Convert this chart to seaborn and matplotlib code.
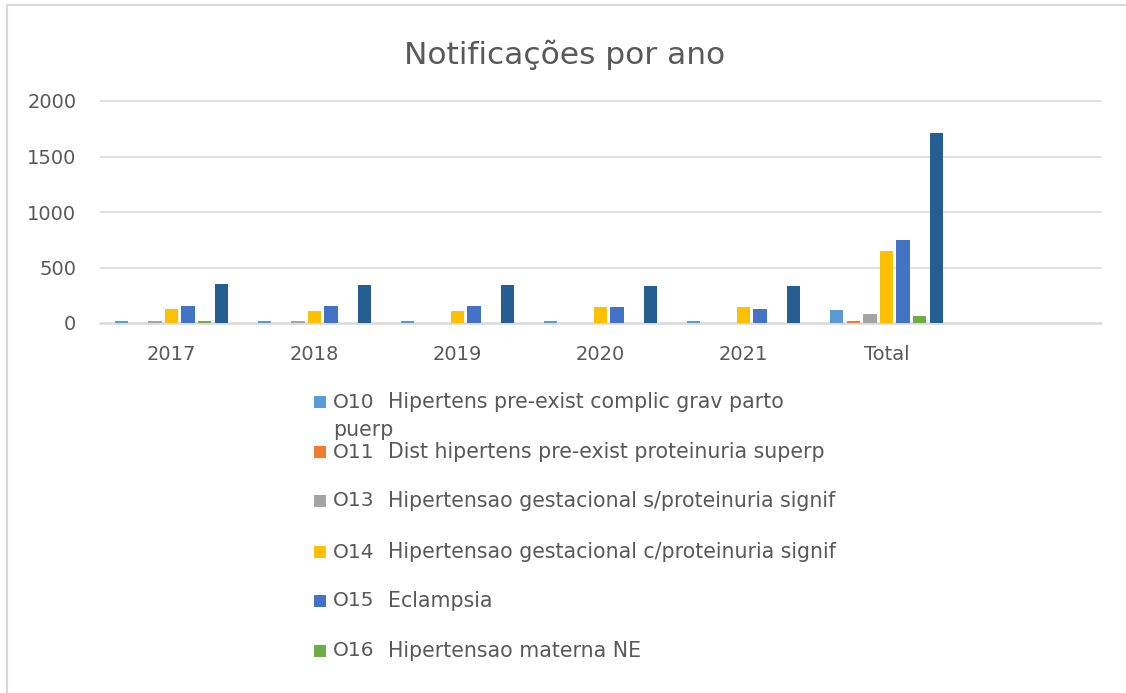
import matplotlib
matplotlib.use("Agg")
import matplotlib.pyplot as plt
import seaborn as sns
import pandas as pd
from matplotlib.patches import Rectangle
from matplotlib.lines import Line2D

categories = ["2017", "2018", "2019", "2020", "2021", "Total"]
codes = ["O10", "O11", "O13", "O14", "O15", "O16", "Total"]
names = [
    "Hipertens pre-exist complic grav parto\npuerp",
    "Dist hipertens pre-exist proteinuria superp",
    "Hipertensao gestacional s/proteinuria signif",
    "Hipertensao gestacional c/proteinuria signif",
    "Eclampsia",
    "Hipertensao materna NE",
    "Total",
]
o10 = [20, 20, 18, 20, 20, 115]
o11 = [0, 0, 0, 0, 0, 15]
o13 = [20, 20, 0, 0, 0, 80]
o14 = [130, 108, 108, 140, 140, 650]
o15 = [155, 155, 155, 140, 130, 750]
o16 = [18, 0, 0, 0, 0, 60]
total = [355, 342, 342, 333, 333, 1710]
series_values = [o10, o11, o13, o14, o15, o16, total]
colors = ["#5B9BD5", "#ED7D31", "#A5A5A5", "#FFC000", "#4472C4", "#70AD47", "#255E91"]
yticks = [0, 500, 1000, 1500, 2000]

rows = []
for code, vals in zip(codes, series_values):
    for cat, v in zip(categories, vals):
        rows.append({"cat": cat, "serie": code, "valor": v})
df = pd.DataFrame(rows)

sns.set_theme(style="white")
plt.rcParams["font.family"] = ["DejaVu Sans"]
txt = "#595959"

W, H = 1126, 693
fig = plt.figure(figsize=(W / 100, H / 100), dpi=100)
fig.patch.set_facecolor("white")

def fx(px):
    return px / W

def fy(py):
    return 1 - py / H

ax = fig.add_axes([fx(100), fy(323), fx(1101) - fx(100), fy(101) - fy(323)])
sns.barplot(data=df, x="cat", y="valor", hue="serie", order=categories,
            hue_order=codes, palette=colors, width=0.81, gap=0.2,
            ax=ax, legend=False, saturation=1, linewidth=0)
ax.set_xlim(-0.5, 6.5)
ax.set_ylim(0, 2000)
ax.set_yticks(yticks)
ax.set_yticklabels([str(t) for t in yticks])
for s in ax.spines.values():
    s.set_visible(False)
ax.set_xlabel("")
ax.set_ylabel("")
for t in yticks:
    ax.axhline(t, color="#D9D9D9", lw=1.1 if t else 1.8, zorder=0, clip_on=False)
ax.tick_params(axis="y", length=0, pad=17, labelsize=14, labelcolor=txt)
ax.tick_params(axis="x", length=0, pad=16, labelsize=14, labelcolor=txt)
ax.set_facecolor("white")

fig.text(fx(565), fy(55), "Notificações por ano", ha="center", va="center",
         fontsize=22.5, color=txt)

# frame lines (top and left)
fig.add_artist(Line2D([fx(7), 1], [fy(5), fy(5)], color="#D9D9D9", lw=1.5))
fig.add_artist(Line2D([fx(7), fx(7)], [fy(5), 0], color="#D9D9D9", lw=1.5))

# legend (6 entries shown)
row_y = [402, 452, 501, 552, 601, 651]
for i in range(6):
    y = row_y[i]
    fig.add_artist(Rectangle((fx(314), fy(y + 6)), fx(12), 12 / H,
                             facecolor=colors[i], edgecolor="none"))
    fig.text(fx(333), fy(y), codes[i], ha="left", va="center", fontsize=14.5, color=txt)
    lines = names[i].split("\n")
    fig.text(fx(388), fy(y), lines[0], ha="left", va="center", fontsize=14.8, color=txt)
    if len(lines) > 1:
        fig.text(fx(333), fy(y + 28), lines[1], ha="left", va="center",
                 fontsize=14.8, color=txt)

fig.savefig("out.png", dpi=100)
